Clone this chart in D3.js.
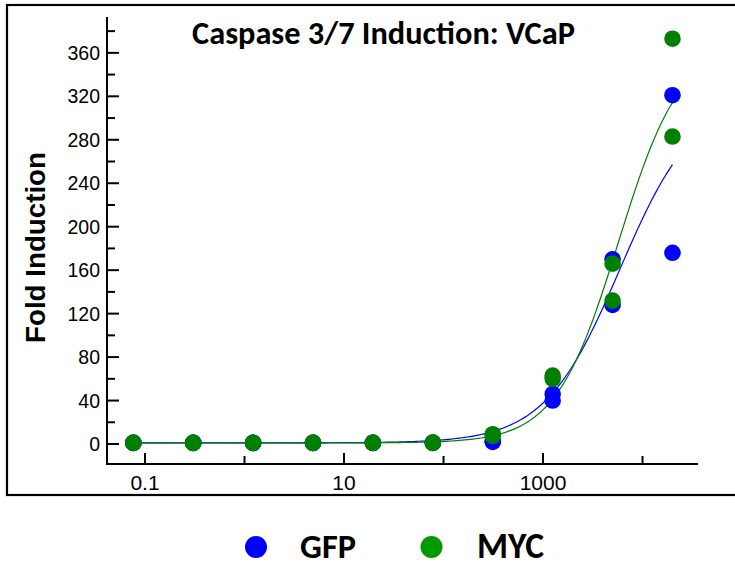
<!DOCTYPE html>
<html><head><meta charset="utf-8">
<script src="https://cdn.jsdelivr.net/npm/d3@7"></script>
<style>body{margin:0;background:#fff}svg{display:block}</style>
</head><body>
<svg id="c" width="735" height="567"></svg>
<script>
// ---- data ----
const title = "Caspase 3/7 Induction: VCaP";
const yLabel = "Fold Induction";
const concentrations = [0.0763, 0.305, 1.22, 4.88, 19.5, 78.1, 312.5, 1250, 5000, 20000];
const gfpRep1 = [1, 1, 1, 1, 1, 1.2, 2.5, 46, 170, 321];
const gfpRep2 = [1, 1, 1, 1, 1, 1, 2, 40, 128, 176];
const mycRep1 = [1, 1, 1, 1, 1, 1.3, 7.5, 63, 166, 373];
const mycRep2 = [1, 1, 1, 1, 1, 1, 9, 60, 132, 283];
// fitted 4PL parameters: bottom, top, EC50, hill
const gfpFit = [1, 320, 5900, 1.15];
const mycFit = [1, 370, 5715, 1.38];
const yTicks = [0, 40, 80, 120, 160, 200, 240, 280, 320, 360];
const yMinorTicks = [20, 60, 100, 140, 180, 220, 260, 300, 340, 380];
const xTicksLabeled = [0.1, 10, 1000];
const xTickLabels = ["0.1", "10", "1000"];
const xTicksShort = [1, 100, 10000];
const seriesNames = ["GFP", "MYC"];
const colors = {GFP: "#0000ff", MYC: "#008000"};
const legendColors = {GFP: "#0000ff", MYC: "#009900"};

const svg = d3.select("#c");

// frame
svg.append("rect").attr("x", 7).attr("y", 5).attr("width", 760).attr("height", 490)
  .attr("fill", "none").attr("stroke", "#000").attr("stroke-width", 2.2);

const x = d3.scaleLog().domain([0.0415, 36100]).range([107, 698]);
const y = d3.scaleLinear().domain([-18.4, 393]).range([464, 17]);

const g = svg.append("g");
// axes lines
g.append("line").attr("x1", 107).attr("x2", 107).attr("y1", y.range()[1]).attr("y2", 464)
  .attr("stroke", "#000").attr("stroke-width", 2);
g.append("line").attr("x1", 106).attr("x2", 698).attr("y1", 464).attr("y2", 464)
  .attr("stroke", "#000").attr("stroke-width", 2);

const axFont = "Liberation Sans, Arial, sans-serif";
// y ticks
yTicks.forEach(v => {
  g.append("line").attr("x1", 107).attr("x2", 119).attr("y1", y(v)).attr("y2", y(v))
    .attr("stroke", "#000").attr("stroke-width", 2);
  g.append("text").attr("x", 100).attr("y", y(v)).attr("dy", "0.36em")
    .attr("text-anchor", "end").attr("font-family", axFont)
    .attr("font-size", 19.5).text(v);
});
yMinorTicks.forEach(v => {
  g.append("line").attr("x1", 107).attr("x2", 115).attr("y1", y(v)).attr("y2", y(v))
    .attr("stroke", "#000").attr("stroke-width", 2);
});
// x ticks
xTicksLabeled.forEach((v, i) => {
  g.append("line").attr("x1", x(v)).attr("x2", x(v)).attr("y1", 464).attr("y2", 453)
    .attr("stroke", "#000").attr("stroke-width", 2);
  g.append("text").attr("x", x(v)).attr("y", 490)
    .attr("text-anchor", "middle").attr("font-family", axFont)
    .attr("font-size", 21).text(xTickLabels[i]);
});
xTicksShort.forEach(v => {
  g.append("line").attr("x1", x(v)).attr("x2", x(v)).attr("y1", 464).attr("y2", 456)
    .attr("stroke", "#000").attr("stroke-width", 2);
});

// curves
function fourPL(p, c) { return p[0] + (p[1] - p[0]) / (1 + Math.pow(p[2] / c, p[3])); }
const lx0 = Math.log10(concentrations[0]), lx1 = Math.log10(concentrations[concentrations.length - 1]);
const curveXs = d3.range(0, 201).map(i => Math.pow(10, lx0 + (lx1 - lx0) * i / 200));
const line = d3.line().x(d => x(d[0])).y(d => y(d[1])).curve(d3.curveLinear);
[["GFP", gfpFit], ["MYC", mycFit]].forEach(([name, p]) => {
  g.append("path").datum(curveXs.map(c => [c, fourPL(p, c)]))
    .attr("d", line).attr("fill", "none").attr("stroke", colors[name]).attr("stroke-width", 1.2);
});

// points
const pts = [["GFP", gfpRep1], ["GFP", gfpRep2], ["MYC", mycRep1], ["MYC", mycRep2]];
pts.forEach(([name, arr]) => {
  g.selectAll(null).data(arr.map((v, i) => [concentrations[i], v])).enter().append("circle")
    .attr("cx", d => x(d[0])).attr("cy", d => y(d[1])).attr("r", 8.3)
    .attr("fill", colors[name]);
});

// title
function fitText(sel, target) {
  const w = sel.node().getComputedTextLength();
  const fs = parseFloat(sel.attr("font-size"));
  sel.attr("font-size", fs * target / w);
}
const calFont = "Carlito, Calibri, 'Open Sans', 'Noto Sans', sans-serif";
const t = svg.append("text").attr("x", 383.5).attr("y", 44).attr("text-anchor", "middle")
  .attr("font-family", calFont).attr("font-weight", "bold").attr("font-size", 24).text(title);
fitText(t, 383);

// y label
const yl = svg.append("text").attr("transform", "translate(45,247.5) rotate(-90)")
  .attr("text-anchor", "middle").attr("font-family", axFont)
  .attr("font-weight", "bold").attr("font-size", 22).text(yLabel);
fitText(yl, 191);

// legend
const legendX = [256, 431.5];
const legendTextX = [300, 477];
const legendW = [56, 67];
seriesNames.forEach((n, i) => {
  svg.append("circle").attr("cx", legendX[i]).attr("cy", 547).attr("r", 11)
    .attr("fill", legendColors[n]);
  const lt = svg.append("text").attr("x", legendTextX[i]).attr("y", 558)
    .attr("font-family", calFont).attr("font-weight", "bold").attr("font-size", 30).text(n);
  fitText(lt, legendW[i]);
});
</script>
</body></html>
